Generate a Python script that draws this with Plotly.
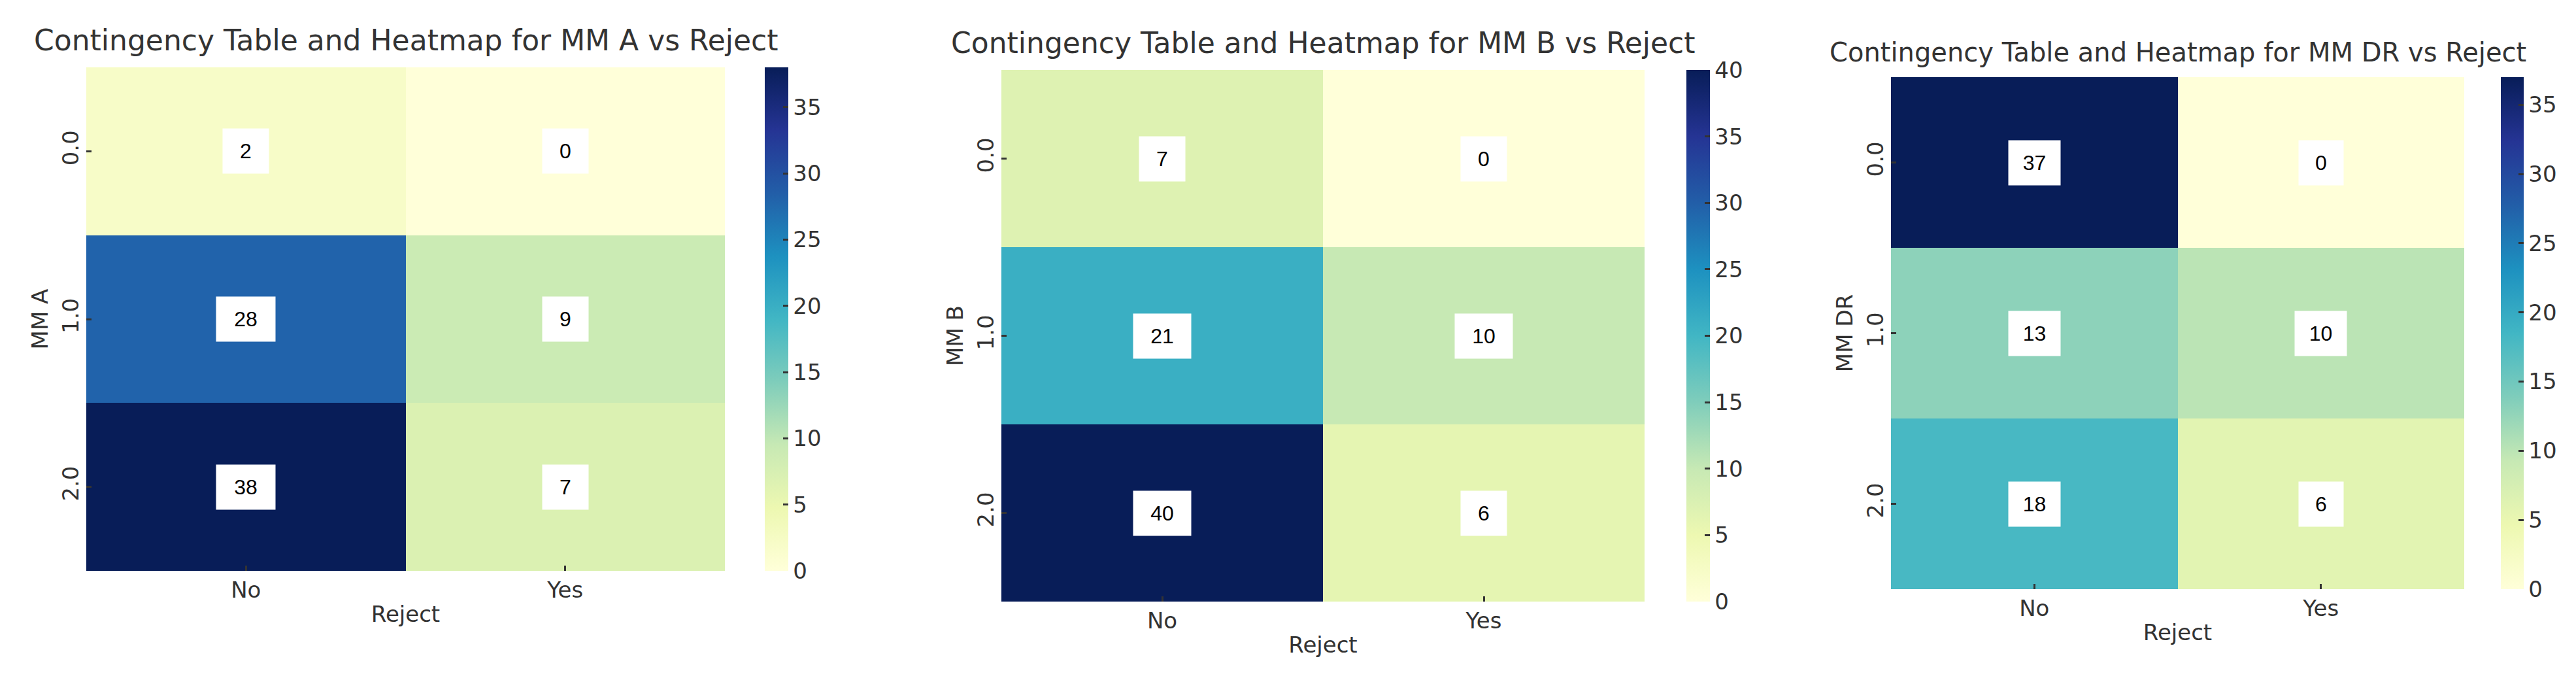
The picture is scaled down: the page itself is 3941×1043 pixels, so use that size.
import plotly.graph_objects as go

W, H = 3941, 1043

reject_labels = ["No", "Yes"]
level_labels = ["0.0", "1.0", "2.0"]

mm_a_counts = [[2, 0], [28, 9], [38, 7]]
mm_b_counts = [[7, 0], [21, 10], [40, 6]]
mm_dr_counts = [[37, 0], [13, 10], [18, 6]]

variable_names = ["MM A", "MM B", "MM DR"]
target_name = "Reject"

ylgnbu = ['rgb(255,255,217)', 'rgb(237,248,177)', 'rgb(199,233,180)', 'rgb(127,205,187)',
          'rgb(65,182,196)', 'rgb(29,145,192)', 'rgb(34,94,168)', 'rgb(37,52,148)', 'rgb(8,29,88)']
cscale = [[i / 8, c] for i, c in enumerate(ylgnbu)]

# layout in pixels: heatmap box (x0, x1, y0, y1), colorbar (x0, width), title font size, box widths
panels = [
    dict(data=mm_a_counts, hm=(124, 1101, 95, 865), cb=(1162, 36), tsize=44, tbase=70, box=(70, 90)),
    dict(data=mm_b_counts, hm=(1524, 2508, 99, 912), cb=(2572, 36), tsize=44, tbase=74, box=(70, 88)),
    dict(data=mm_dr_counts, hm=(2885, 3762, 110, 893), cb=(3818, 35), tsize=40, tbase=86, box=(68, 79)),
]

TXT = "#333333"
AX_FONT = dict(family="DejaVu Sans", size=34, color=TXT)

fig = go.Figure()
annotations = []
layout = dict(width=W, height=H, margin=dict(l=0, r=0, t=0, b=0),
              paper_bgcolor="white", plot_bgcolor="white", showlegend=False)

for i, (p, name) in enumerate(zip(panels, variable_names)):
    k = "" if i == 0 else str(i + 1)
    x0, x1, y0, y1 = p["hm"]
    z = p["data"]
    zmax = max(max(r) for r in z)
    cbx, cbw = p["cb"]
    fig.add_trace(go.Heatmap(
        z=z, x=reject_labels, y=level_labels,
        xaxis="x" + k, yaxis="y" + k,
        colorscale=cscale, zmin=0, zmax=zmax,
        colorbar=dict(
            x=cbx / W, xanchor="left", xref="paper", xpad=0, ypad=0,
            y=1 - (y0 + y1) / 2 / H, yanchor="middle", yref="paper",
            len=(y1 - y0) / H, lenmode="fraction",
            thickness=cbw, thicknessmode="pixels", outlinewidth=0,
            tick0=0, dtick=5, ticks="inside", ticklen=8, tickwidth=3, tickcolor=TXT,
            tickfont=AX_FONT,
        ),
    ))
    layout["xaxis" + k] = dict(
        domain=[x0 / W, x1 / W], anchor="y" + k,
        tickfont=AX_FONT, ticks="inside", ticklen=8, tickwidth=3, tickcolor=TXT,
        showgrid=False, zeroline=False, showline=False, ticklabelstandoff=6,
        title=dict(text=target_name, font=AX_FONT, standoff=6),
    )
    layout["yaxis" + k] = dict(
        domain=[1 - y1 / H, 1 - y0 / H], anchor="x" + k, autorange="reversed",
        tickfont=AX_FONT, tickangle=-90, ticks="inside", ticklen=8, tickwidth=3, tickcolor=TXT,
        showgrid=False, zeroline=False, showline=False, ticklabelstandoff=4,
        title=dict(text=name, font=AX_FONT, standoff=4),
    )
    annotations.append(dict(
        text=f"Contingency Table and Heatmap for {name} vs {target_name}",
        xref="paper", yref="paper", x=(x0 + x1) / 2 / W, y=1 - (p["tbase"] + 11) / H,
        xanchor="center", yanchor="bottom", showarrow=False,
        font=dict(family="DejaVu Sans", size=p["tsize"], color=TXT),
    ))
    for r, lvl in enumerate(level_labels):
        for c, rej in enumerate(reject_labels):
            v = z[r][c]
            s = str(v)
            annotations.append(dict(
                text=s, x=rej, y=lvl, xref="x" + k, yref="y" + k,
                showarrow=False, bgcolor="white", borderpad=0,
                width=p["box"][0] if len(s) == 1 else p["box"][1], height=68,
                font=dict(family="Liberation Sans, Arial", size=32, color="black"),
            ))

layout["annotations"] = annotations
fig.update_layout(**layout)
fig.write_html("out.html")
